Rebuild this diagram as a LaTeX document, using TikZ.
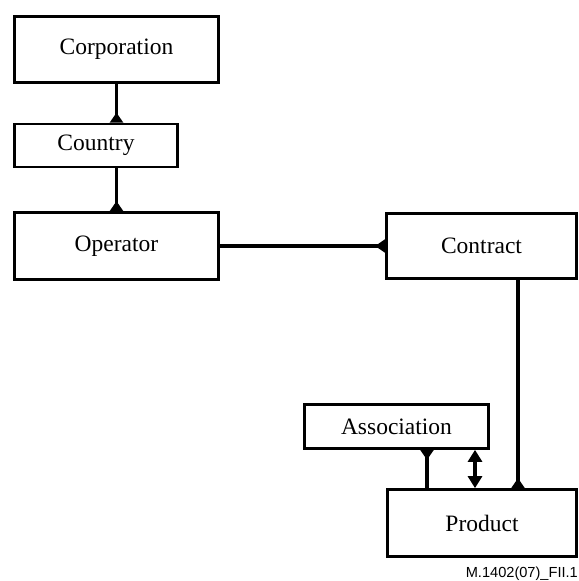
\documentclass[tikz,border=0pt]{standalone}
\usepackage{fontspec}
\setmainfont{Liberation Serif}
\newfontfamily\labelfont{Liberation Sans}
\usetikzlibrary{arrows.meta}
\begin{document}
\begin{tikzpicture}[x=1bp,y=-1bp,
  entity/.style={draw, line width=2.7bp, inner sep=0pt, font=\fontsize{23.5bp}{26bp}\selectfont},
  conn/.style={line width=3.1bp},
  foot/.style={-{Triangle[reversed,length=10bp,width=13bp]}},
  head/.style={{Triangle[reversed,length=10bp,width=13bp]}-},
  both/.style={{Triangle[length=12bp,width=14bp]}-{Triangle[length=12bp,width=14bp]}}]
  \useasboundingbox (0,0) rectangle (579,581);
  % entity boxes
  \node[entity, minimum width=204bp, minimum height=66bp] (corp) at (116.5,49.5) {Corporation};
  \node[entity, minimum width=163bp, minimum height=43bp] (country) at (96,145.5) {Country};
  \node[entity, minimum width=204bp, minimum height=67bp] (operator) at (116.5,246) {Operator};
  \node[entity, minimum width=190bp, minimum height=65bp] (contract) at (481.5,246) {Contract};
  \node[entity, minimum width=184bp, minimum height=44bp] (assoc) at (396.5,426.5) {Association};
  \node[entity, minimum width=189bp, minimum height=67bp] (product) at (482,523) {Product};
  % relationships
  \draw[conn, foot] (corp.south) -- (corp.south |- country.north);
  \draw[conn, foot] (operator.north |- country.south) -- (operator.north);
  \draw[conn, foot] (operator.east) -- (operator.east -| contract.west);
  \draw[conn, foot] ([xshift=36.5bp]contract.south) -- ([xshift=36.5bp]contract.south |- product.north);
  \draw[conn, head] ([xshift=30.5bp]assoc.south) -- ([xshift=30.5bp]assoc.south |- product.north);
  \draw[conn, both] ([xshift=78.5bp]assoc.south) -- ([xshift=78.5bp]assoc.south |- product.north);
  % figure reference
  \node[anchor=base east, inner sep=0pt, font=\labelfont\fontsize{14.6bp}{16bp}\selectfont] (ref) at (578,577.5) {M.1402(07)\_FII.1};
\end{tikzpicture}
\end{document}
